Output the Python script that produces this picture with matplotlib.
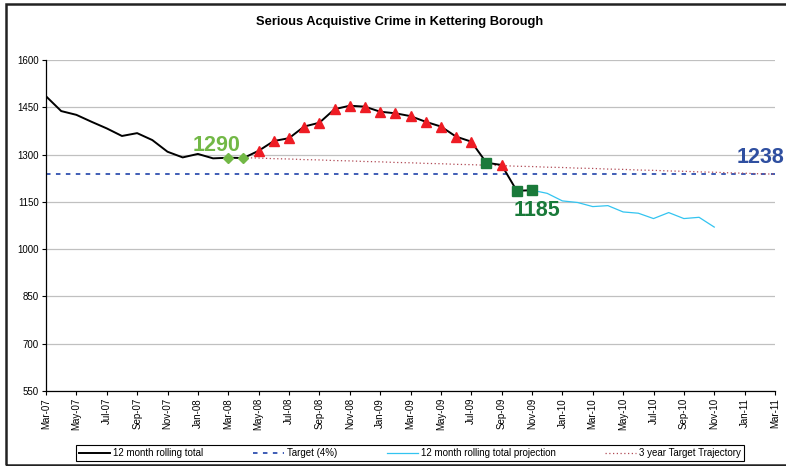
import numpy as np
import pandas as pd
import matplotlib
matplotlib.use("Agg")
import matplotlib.pyplot as plt
from matplotlib.patches import Rectangle
from matplotlib.lines import Line2D

plt.rcParams['font.family'] = ['Liberation Sans', 'DejaVu Sans']

# months Mar-07 .. Mar-11
months = pd.date_range("2007-03-01", "2011-03-01", freq="MS").strftime("%b-%y").tolist()

# 12 month rolling total, Mar-07 .. Nov-09
actual = [1485, 1438, 1426, 1404, 1383, 1359, 1368, 1346, 1309, 1291, 1302, 1288,
          1290, 1289, 1312, 1343, 1352, 1389, 1401, 1444, 1455, 1452, 1436, 1431,
          1422, 1404, 1389, 1357, 1341, 1274, 1267, 1185, 1187]
# status marker for each actual month: '' none, 'g' baseline, 'r' above trajectory, 's' below
status = [''] * 12 + ['g', 'g'] + ['r'] * 15 + ['s', 'r', 's', 's']

# projection Nov-09 .. Nov-10
proj_start = "Nov-09"
projection = [1187, 1177, 1153, 1148, 1135, 1138, 1118, 1114, 1097, 1116, 1097, 1101, 1070]

# 3 year target trajectory Apr-08 .. Mar-11
traj_start = "Apr-08"
trajectory = [1290, 1289, 1287, 1286, 1284, 1283, 1281, 1280, 1278, 1277, 1275, 1274,
              1272, 1271, 1269, 1268, 1266, 1265, 1263, 1262, 1260, 1259, 1257, 1256,
              1254, 1253, 1251, 1250, 1248, 1247, 1245, 1244, 1242, 1241, 1239, 1238]

target = 1238

W, H = 786, 466
fig = plt.figure(figsize=(W / 100, H / 100), dpi=100)
ax = fig.add_axes([46 / W, 1 - 391 / H, (775 - 46) / W, (391 - 60) / H])

x_all = np.arange(len(months))
x_act = np.arange(len(actual))
p0 = months.index(proj_start)
x_proj = np.arange(p0, p0 + len(projection))
t0 = months.index(traj_start)
x_traj = np.arange(t0, t0 + len(trajectory))

ax.plot(x_all, [target] * len(months), color='#3050b0', lw=1.3, ls=(0, (2.5, 3)), zorder=2)
ax.plot(x_traj, trajectory, color='#b04a55', lw=0.9, ls=(0, (1, 2)), zorder=2)
ax.plot(x_proj, projection, color='#33c4f0', lw=0.9, zorder=3)
ax.plot(x_act, actual, color='black', lw=1.4, zorder=4)

act = np.array(actual)
st = np.array(status)
g = st == 'g'
r = st == 'r'
s = st == 's'
ax.plot(x_act[g], act[g], ls='none', marker='D', ms=5.5, color='#72b846', zorder=5)
ax.plot(x_act[r], act[r], ls='none', marker='^', ms=7.5, color='#ee1c24', zorder=5)
ax.plot(x_act[s], act[s], ls='none', marker='s', ms=6.5, color='#1a7a3a', zorder=5)

ax.text(11.2, 1328, "1290", color='#72b846', fontsize=15.5, fontweight='bold',
        ha='center', va='center')
ax.text(32.3, 1124, "1185", color='#1a7a3a', fontsize=15.5, fontweight='bold',
        ha='center', va='center')
ax.text(48.6, 1290, "1238", color='#2f4fa0', fontsize=15.5, fontweight='bold',
        ha='right', va='center', clip_on=False)

ax.set_xlim(0, len(months) - 1)
ax.set_ylim(550, 1600)
ax.set_yticks(np.arange(550, 1601, 150))
ax.set_xticks(x_all[::2])
ax.set_xticklabels(months[::2], rotation=90, fontsize=7)
ax.tick_params(axis='y', labelsize=7, length=3, width=0.8, pad=2)
ax.tick_params(axis='x', length=3, width=0.8, pad=2)
ax.grid(axis='y', color='#c0c0c0', lw=0.9)
ax.set_axisbelow(True)
for side in ['top', 'right']:
    ax.spines[side].set_visible(False)
for side in ['left', 'bottom']:
    ax.spines[side].set_linewidth(0.9)

fig.text(400 / W, 1 - 22 / H, "Serious Acquistive Crime in Kettering Borough",
         ha='center', va='center', fontsize=9.3, fontweight='bold')

handles = [
    Line2D([], [], color='black', lw=1.4),
    Line2D([], [], color='#3050b0', lw=1.3, ls=(0, (2.5, 3))),
    Line2D([], [], color='#33c4f0', lw=0.9),
    Line2D([], [], color='#b04a55', lw=0.9, ls=(0, (1, 2))),
]
labels = ["12 month rolling total", "Target (4%)",
          "12 month rolling total projection", "3 year Target Trajectory"]
leg = fig.legend(handles, labels, loc='center', ncol=4,
                 bbox_to_anchor=(410 / W, 1 - 453 / H), fontsize=7,
                 fancybox=False, edgecolor='black', framealpha=1,
                 handlelength=3.2, columnspacing=5.1, borderpad=0.35,
                 handletextpad=0.3)
leg.get_frame().set_linewidth(0.8)

fig.patches.append(Rectangle((6 / W, 1 - 465 / H), 2, (465 - 4) / H,
                             transform=fig.transFigure, fill=False,
                             edgecolor='#222222', lw=1.8))

fig.savefig("out.png", dpi=100)
